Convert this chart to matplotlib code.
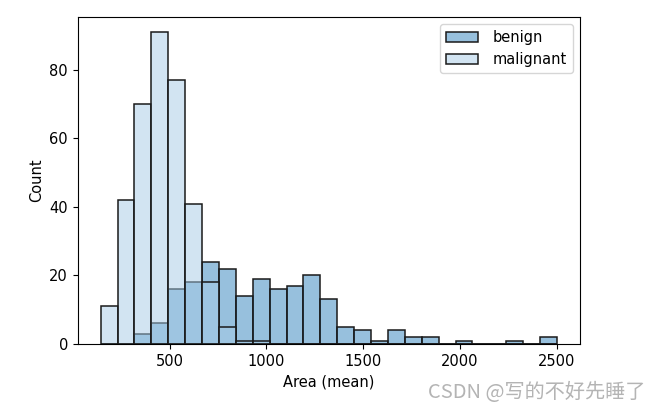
import matplotlib
matplotlib.use('Agg')
import matplotlib.pyplot as plt
from matplotlib.colors import to_rgba
import numpy as np

# histogram bins (area_mean range split into 27 bins)
bin_lo = 143.5
bin_hi = 2501.0
n_bins = 27

# counts per bin
benign_counts = [0, 0, 3, 6, 16, 18, 24, 22, 14, 19, 16, 17, 20, 13,
                 5, 4, 1, 4, 2, 2, 0, 1, 0, 0, 1, 0, 2]
malignant_counts = [11, 42, 70, 91, 77, 41, 18, 5, 1, 1, 0, 0, 0, 0,
                    0, 0, 0, 0, 0, 0, 0, 0, 0, 0, 0, 0, 0]

labels = ['benign', 'malignant']
colors = ['#3182bd', '#a6cbe6']

edges = np.linspace(bin_lo, bin_hi, n_bins + 1)

plt.rcParams['font.size'] = 10.5
fig = plt.figure(figsize=(6.59, 4.11), dpi=100)
ax = fig.add_axes([0.118, 0.163, 0.762, 0.796])

for counts, col, lab in zip([benign_counts, malignant_counts], colors, labels):
    # alpha on the face only, edges stay solid
    ax.hist(edges[:-1], bins=edges, weights=counts,
            facecolor=to_rgba(col, 0.5), edgecolor='#1a1a1a',
            linewidth=1.1, label=lab)

ax.set_xlim(25, 2620)
ax.set_ylim(0, 95.5)
ax.set_xticks([500, 1000, 1500, 2000, 2500])
ax.set_yticks([0, 20, 40, 60, 80])
ax.set_xlabel('Area (mean)')
ax.set_ylabel('Count')
ax.legend(loc='upper right', handlelength=2.2, handletextpad=1.0)

fig.text(0.98, 0.02, 'CSDN @写的不好先睡了', ha='right', va='bottom',
         fontsize=14.5, color='#b4b4b4',
         family=['Noto Sans CJK SC', 'DejaVu Sans'])

fig.savefig('out.png', dpi=100)
